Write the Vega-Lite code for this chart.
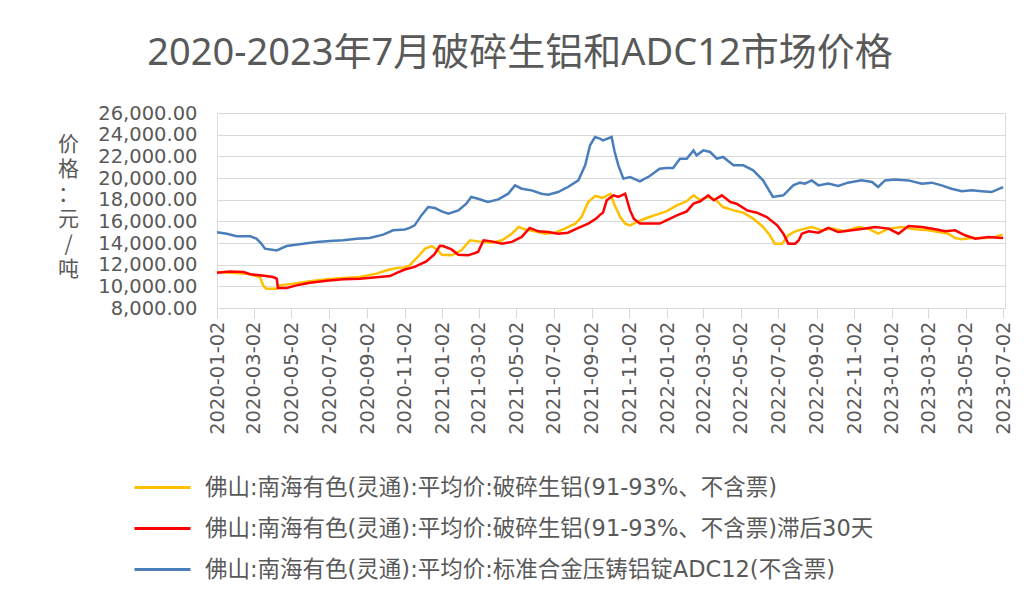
{
"$schema":"https://vega.github.io/schema/vega-lite/v6.json",
"width":788,"height":195,
"autosize":{"type":"none"},
"padding":{"left":217,"top":113,"right":22,"bottom":295},
"background":"white",
"title":{"text":"2020-2023年7月破碎生铝和ADC12市场价格","font":"Noto Sans, Noto Sans CJK SC","fontSize":38,"fontWeight":"normal","color":"#595959","anchor":"middle","frame":"group","dx":-91,"offset":30},
"data":{"values":[
{"s":"c","d":"2020-01-02","v":15000},{"s":"c","d":"2020-01-18","v":14860},{"s":"c","d":"2020-02-03","v":14620},{"s":"c","d":"2020-02-25","v":14620},{"s":"c","d":"2020-03-06","v":14400},{"s":"c","d":"2020-03-14","v":13940},{"s":"c","d":"2020-03-20","v":13480},{"s":"c","d":"2020-04-08","v":13320},{"s":"c","d":"2020-04-24","v":13720},{"s":"c","d":"2020-05-21","v":13940},{"s":"c","d":"2020-06-12","v":14100},{"s":"c","d":"2020-07-03","v":14180},{"s":"c","d":"2020-07-25","v":14250},{"s":"c","d":"2020-08-16","v":14400},{"s":"c","d":"2020-09-06","v":14460},{"s":"c","d":"2020-09-28","v":14770},{"s":"c","d":"2020-10-14","v":15170},{"s":"c","d":"2020-11-02","v":15250},{"s":"c","d":"2020-11-10","v":15400},{"s":"c","d":"2020-11-18","v":15630},{"s":"c","d":"2020-11-29","v":16550},{"s":"c","d":"2020-12-10","v":17320},{"s":"c","d":"2020-12-21","v":17230},{"s":"c","d":"2021-01-01","v":16920},{"s":"c","d":"2021-01-12","v":16700},{"s":"c","d":"2021-01-28","v":17010},{"s":"c","d":"2021-02-10","v":17630},{"s":"c","d":"2021-02-18","v":18250},{"s":"c","d":"2021-03-01","v":18090},{"s":"c","d":"2021-03-17","v":17780},{"s":"c","d":"2021-04-03","v":18030},{"s":"c","d":"2021-04-19","v":18550},{"s":"c","d":"2021-04-30","v":19320},{"s":"c","d":"2021-05-11","v":19010},{"s":"c","d":"2021-05-27","v":18860},{"s":"c","d":"2021-06-12","v":18550},{"s":"c","d":"2021-06-23","v":18460},{"s":"c","d":"2021-07-09","v":18700},{"s":"c","d":"2021-07-25","v":19170},{"s":"c","d":"2021-08-11","v":19780},{"s":"c","d":"2021-08-22","v":21170},{"s":"c","d":"2021-08-30","v":23020},{"s":"c","d":"2021-09-07","v":23780},{"s":"c","d":"2021-09-15","v":23630},{"s":"c","d":"2021-09-20","v":23480},{"s":"c","d":"2021-10-04","v":23780},{"s":"c","d":"2021-10-09","v":22400},{"s":"c","d":"2021-10-15","v":21170},{"s":"c","d":"2021-10-23","v":19940},{"s":"c","d":"2021-11-03","v":20090},{"s":"c","d":"2021-11-19","v":19690},{"s":"c","d":"2021-12-05","v":20180},{"s":"c","d":"2021-12-21","v":20860},{"s":"c","d":"2022-01-01","v":20920},{"s":"c","d":"2022-01-12","v":20920},{"s":"c","d":"2022-01-23","v":21780},{"s":"c","d":"2022-02-03","v":21780},{"s":"c","d":"2022-02-14","v":22550},{"s":"c","d":"2022-02-19","v":22090},{"s":"c","d":"2022-03-02","v":22550},{"s":"c","d":"2022-03-13","v":22400},{"s":"c","d":"2022-03-24","v":21780},{"s":"c","d":"2022-04-03","v":21940},{"s":"c","d":"2022-04-20","v":21170},{"s":"c","d":"2022-05-06","v":21170},{"s":"c","d":"2022-05-22","v":20710},{"s":"c","d":"2022-06-07","v":19780},{"s":"c","d":"2022-06-23","v":18250},{"s":"c","d":"2022-07-10","v":18400},{"s":"c","d":"2022-07-26","v":19320},{"s":"c","d":"2022-08-06","v":19570},{"s":"c","d":"2022-08-14","v":19480},{"s":"c","d":"2022-08-25","v":19780},{"s":"c","d":"2022-09-05","v":19320},{"s":"c","d":"2022-09-21","v":19480},{"s":"c","d":"2022-10-07","v":19260},{"s":"c","d":"2022-10-23","v":19570},{"s":"c","d":"2022-11-14","v":19780},{"s":"c","d":"2022-12-01","v":19630},{"s":"c","d":"2022-12-11","v":19170},{"s":"c","d":"2022-12-22","v":19780},{"s":"c","d":"2023-01-07","v":19850},{"s":"c","d":"2023-01-29","v":19780},{"s":"c","d":"2023-02-20","v":19480},{"s":"c","d":"2023-03-08","v":19570},{"s":"c","d":"2023-03-24","v":19320},{"s":"c","d":"2023-04-09","v":19010},{"s":"c","d":"2023-04-26","v":18770},{"s":"c","d":"2023-05-12","v":18860},{"s":"c","d":"2023-05-28","v":18770},{"s":"c","d":"2023-06-13","v":18700},{"s":"c","d":"2023-06-30","v":19110},{"s":"c","d":"2023-07-02","v":19150},
{"s":"a","d":"2020-01-02","v":11320},{"s":"a","d":"2020-01-23","v":11250},{"s":"a","d":"2020-02-19","v":11170},{"s":"a","d":"2020-03-12","v":10860},{"s":"a","d":"2020-03-17","v":10090},{"s":"a","d":"2020-03-22","v":9780},{"s":"a","d":"2020-04-08","v":9780},{"s":"a","d":"2020-04-13","v":10090},{"s":"a","d":"2020-05-05","v":10250},{"s":"a","d":"2020-06-01","v":10460},{"s":"a","d":"2020-06-28","v":10650},{"s":"a","d":"2020-07-25","v":10770},{"s":"a","d":"2020-08-21","v":10860},{"s":"a","d":"2020-09-17","v":11170},{"s":"a","d":"2020-10-04","v":11480},{"s":"a","d":"2020-10-20","v":11690},{"s":"a","d":"2020-11-02","v":11750},{"s":"a","d":"2020-11-10","v":11940},{"s":"a","d":"2020-11-23","v":12710},{"s":"a","d":"2020-12-05","v":13480},{"s":"a","d":"2020-12-16","v":13720},{"s":"a","d":"2020-12-26","v":13320},{"s":"a","d":"2021-01-01","v":12920},{"s":"a","d":"2021-01-17","v":12860},{"s":"a","d":"2021-02-02","v":13320},{"s":"a","d":"2021-02-16","v":14250},{"s":"a","d":"2021-03-01","v":14150},{"s":"a","d":"2021-03-23","v":14030},{"s":"a","d":"2021-04-09","v":14250},{"s":"a","d":"2021-04-25","v":14860},{"s":"a","d":"2021-05-06","v":15480},{"s":"a","d":"2021-05-16","v":15260},{"s":"a","d":"2021-06-01","v":15080},{"s":"a","d":"2021-06-18","v":14860},{"s":"a","d":"2021-07-04","v":14950},{"s":"a","d":"2021-07-20","v":15330},{"s":"a","d":"2021-08-06","v":15790},{"s":"a","d":"2021-08-16","v":16400},{"s":"a","d":"2021-08-27","v":17780},{"s":"a","d":"2021-09-07","v":18340},{"s":"a","d":"2021-09-15","v":18250},{"s":"a","d":"2021-09-18","v":18150},{"s":"a","d":"2021-09-23","v":18250},{"s":"a","d":"2021-10-02","v":18550},{"s":"a","d":"2021-10-09","v":17480},{"s":"a","d":"2021-10-18","v":16400},{"s":"a","d":"2021-10-26","v":15790},{"s":"a","d":"2021-11-03","v":15630},{"s":"a","d":"2021-11-14","v":15940},{"s":"a","d":"2021-11-30","v":16310},{"s":"a","d":"2021-12-16","v":16620},{"s":"a","d":"2022-01-01","v":16920},{"s":"a","d":"2022-01-18","v":17480},{"s":"a","d":"2022-02-03","v":17850},{"s":"a","d":"2022-02-14","v":18400},{"s":"a","d":"2022-02-25","v":17940},{"s":"a","d":"2022-03-08","v":18250},{"s":"a","d":"2022-03-21","v":18030},{"s":"a","d":"2022-04-03","v":17320},{"s":"a","d":"2022-04-20","v":17010},{"s":"a","d":"2022-05-06","v":16800},{"s":"a","d":"2022-05-22","v":16250},{"s":"a","d":"2022-06-07","v":15480},{"s":"a","d":"2022-06-18","v":14710},{"s":"a","d":"2022-06-26","v":13940},{"s":"a","d":"2022-07-08","v":13940},{"s":"a","d":"2022-07-18","v":14710},{"s":"a","d":"2022-07-29","v":15080},{"s":"a","d":"2022-08-09","v":15260},{"s":"a","d":"2022-08-25","v":15480},{"s":"a","d":"2022-09-11","v":15170},{"s":"a","d":"2022-09-27","v":15330},{"s":"a","d":"2022-10-18","v":15080},{"s":"a","d":"2022-11-09","v":15480},{"s":"a","d":"2022-11-25","v":15330},{"s":"a","d":"2022-12-11","v":14860},{"s":"a","d":"2022-12-28","v":15330},{"s":"a","d":"2023-01-18","v":15480},{"s":"a","d":"2023-02-09","v":15260},{"s":"a","d":"2023-03-03","v":15170},{"s":"a","d":"2023-03-19","v":15010},{"s":"a","d":"2023-04-04","v":14860},{"s":"a","d":"2023-04-15","v":14460},{"s":"a","d":"2023-04-26","v":14340},{"s":"a","d":"2023-05-12","v":14460},{"s":"a","d":"2023-06-03","v":14460},{"s":"a","d":"2023-06-19","v":14560},{"s":"a","d":"2023-07-01","v":14770},
{"s":"b","d":"2020-01-02","v":11260},{"s":"b","d":"2020-01-23","v":11380},{"s":"b","d":"2020-02-14","v":11320},{"s":"b","d":"2020-02-25","v":11110},{"s":"b","d":"2020-03-12","v":11020},{"s":"b","d":"2020-04-02","v":10860},{"s":"b","d":"2020-04-08","v":10710},{"s":"b","d":"2020-04-10","v":9850},{"s":"b","d":"2020-04-24","v":9850},{"s":"b","d":"2020-05-10","v":10090},{"s":"b","d":"2020-06-01","v":10340},{"s":"b","d":"2020-06-28","v":10520},{"s":"b","d":"2020-07-25","v":10650},{"s":"b","d":"2020-08-21","v":10710},{"s":"b","d":"2020-09-17","v":10830},{"s":"b","d":"2020-10-09","v":10950},{"s":"b","d":"2020-10-20","v":11250},{"s":"b","d":"2020-11-02","v":11550},{"s":"b","d":"2020-11-18","v":11800},{"s":"b","d":"2020-12-07","v":12300},{"s":"b","d":"2020-12-20","v":12950},{"s":"b","d":"2020-12-29","v":13750},{"s":"b","d":"2021-01-03","v":13720},{"s":"b","d":"2021-01-17","v":13410},{"s":"b","d":"2021-01-28","v":12920},{"s":"b","d":"2021-02-13","v":12860},{"s":"b","d":"2021-03-01","v":13170},{"s":"b","d":"2021-03-10","v":14250},{"s":"b","d":"2021-03-23","v":14150},{"s":"b","d":"2021-04-09","v":13940},{"s":"b","d":"2021-04-25","v":14100},{"s":"b","d":"2021-05-11","v":14560},{"s":"b","d":"2021-05-24","v":15390},{"s":"b","d":"2021-06-07","v":15080},{"s":"b","d":"2021-06-23","v":15010},{"s":"b","d":"2021-07-09","v":14860},{"s":"b","d":"2021-07-25","v":14950},{"s":"b","d":"2021-08-11","v":15390},{"s":"b","d":"2021-08-27","v":15790},{"s":"b","d":"2021-09-09","v":16250},{"s":"b","d":"2021-09-15","v":16600},{"s":"b","d":"2021-09-20","v":16800},{"s":"b","d":"2021-09-26","v":17940},{"s":"b","d":"2021-10-07","v":18400},{"s":"b","d":"2021-10-15","v":18250},{"s":"b","d":"2021-10-26","v":18550},{"s":"b","d":"2021-11-03","v":17010},{"s":"b","d":"2021-11-09","v":16250},{"s":"b","d":"2021-11-19","v":15790},{"s":"b","d":"2021-12-05","v":15790},{"s":"b","d":"2021-12-21","v":15790},{"s":"b","d":"2022-01-01","v":16090},{"s":"b","d":"2022-01-18","v":16550},{"s":"b","d":"2022-02-03","v":16920},{"s":"b","d":"2022-02-14","v":17630},{"s":"b","d":"2022-02-25","v":17850},{"s":"b","d":"2022-03-10","v":18400},{"s":"b","d":"2022-03-19","v":17940},{"s":"b","d":"2022-04-01","v":18400},{"s":"b","d":"2022-04-15","v":17780},{"s":"b","d":"2022-04-25","v":17630},{"s":"b","d":"2022-05-12","v":17010},{"s":"b","d":"2022-05-28","v":16800},{"s":"b","d":"2022-06-13","v":16400},{"s":"b","d":"2022-06-30","v":15630},{"s":"b","d":"2022-07-10","v":14860},{"s":"b","d":"2022-07-18","v":13940},{"s":"b","d":"2022-07-29","v":13940},{"s":"b","d":"2022-08-04","v":14250},{"s":"b","d":"2022-08-09","v":14860},{"s":"b","d":"2022-08-20","v":15080},{"s":"b","d":"2022-09-05","v":14950},{"s":"b","d":"2022-09-21","v":15390},{"s":"b","d":"2022-10-07","v":15010},{"s":"b","d":"2022-10-29","v":15170},{"s":"b","d":"2022-11-20","v":15330},{"s":"b","d":"2022-12-06","v":15480},{"s":"b","d":"2022-12-28","v":15330},{"s":"b","d":"2023-01-13","v":14860},{"s":"b","d":"2023-01-29","v":15570},{"s":"b","d":"2023-02-20","v":15480},{"s":"b","d":"2023-03-14","v":15260},{"s":"b","d":"2023-03-30","v":15080},{"s":"b","d":"2023-04-15","v":15170},{"s":"b","d":"2023-05-01","v":14710},{"s":"b","d":"2023-05-18","v":14400},{"s":"b","d":"2023-06-08","v":14560},{"s":"b","d":"2023-06-30","v":14460},{"s":"b","d":"2023-07-02","v":14480}
]},
"mark":{"type":"line","strokeWidth":2.5,"interpolate":"linear"},
"encoding":{
"x":{"field":"d","type":"temporal",
 "scale":{"type":"utc","domain":[{"year":2020,"month":1,"date":2,"utc":true},{"year":2023,"month":7,"date":5,"utc":true}]},
 "axis":{"values":[{"year":2020,"month":1,"date":2,"utc":true},{"year":2020,"month":3,"date":2,"utc":true},{"year":2020,"month":5,"date":2,"utc":true},{"year":2020,"month":7,"date":2,"utc":true},{"year":2020,"month":9,"date":2,"utc":true},{"year":2020,"month":11,"date":2,"utc":true},{"year":2021,"month":1,"date":2,"utc":true},{"year":2021,"month":3,"date":2,"utc":true},{"year":2021,"month":5,"date":2,"utc":true},{"year":2021,"month":7,"date":2,"utc":true},{"year":2021,"month":9,"date":2,"utc":true},{"year":2021,"month":11,"date":2,"utc":true},{"year":2022,"month":1,"date":2,"utc":true},{"year":2022,"month":3,"date":2,"utc":true},{"year":2022,"month":5,"date":2,"utc":true},{"year":2022,"month":7,"date":2,"utc":true},{"year":2022,"month":9,"date":2,"utc":true},{"year":2022,"month":11,"date":2,"utc":true},{"year":2023,"month":1,"date":2,"utc":true},{"year":2023,"month":3,"date":2,"utc":true},{"year":2023,"month":5,"date":2,"utc":true},{"year":2023,"month":7,"date":2,"utc":true}],
  "labelExpr":"utcFormat(datum.value, '%Y-%m-%d')","labelAngle":-90,"labelAlign":"right","labelBaseline":"middle","labelFont":"DejaVu Sans","labelFontSize":19.5,"labelColor":"#595959","labelPadding":3,"tickSize":10,"tickColor":"#d9d9d9","tickWidth":1,"domainColor":"#d9d9d9","domainWidth":1,"grid":false,"title":null,"labelOverlap":false,"labelFlush":false,"labelBound":false}},
"y":{"field":"v","type":"quantitative","scale":{"domain":[8000,26000],"nice":false,"zero":false},
 "axis":{"values":[8000,10000,12000,14000,16000,18000,20000,22000,24000,26000],"format":",.2f","labelFont":"DejaVu Sans","labelFontSize":19.5,"labelColor":"#595959","labelPadding":20,"ticks":false,"domain":false,"grid":true,"gridColor":"#d9d9d9","gridWidth":1,
  "title":["价","格","：","元","/","吨"],"titleAngle":0,"titleX":-149,"titleY":20,"titleAlign":"center","titleBaseline":"top","titleFont":"Noto Sans CJK SC","titleFontSize":21,"titleFontWeight":"normal","titleColor":"#595959","titleLineHeight":25}},
"color":{"field":"s","type":"nominal","scale":{"domain":["a","b","c"],"range":["#FFC000","#FF0000","#4A7EBB"]},
 "legend":{"orient":"none","legendX":-84,"legendY":345,"direction":"vertical","title":null,"symbolType":"stroke","symbolSize":3136,"symbolStrokeWidth":3,"labelFont":"DejaVu Sans, Noto Sans CJK SC","labelFontSize":22.5,"labelColor":"#595959","labelLimit":0,"labelOffset":13,"rowPadding":-20,
  "labelExpr":"datum.value == 'a' ? '佛山:南海有色(灵通):平均价:破碎生铝(91-93%、不含票)' : datum.value == 'b' ? '佛山:南海有色(灵通):平均价:破碎生铝(91-93%、不含票)滞后30天' : '佛山:南海有色(灵通):平均价:标准合金压铸铝锭ADC12(不含票)'"}}
}
}
